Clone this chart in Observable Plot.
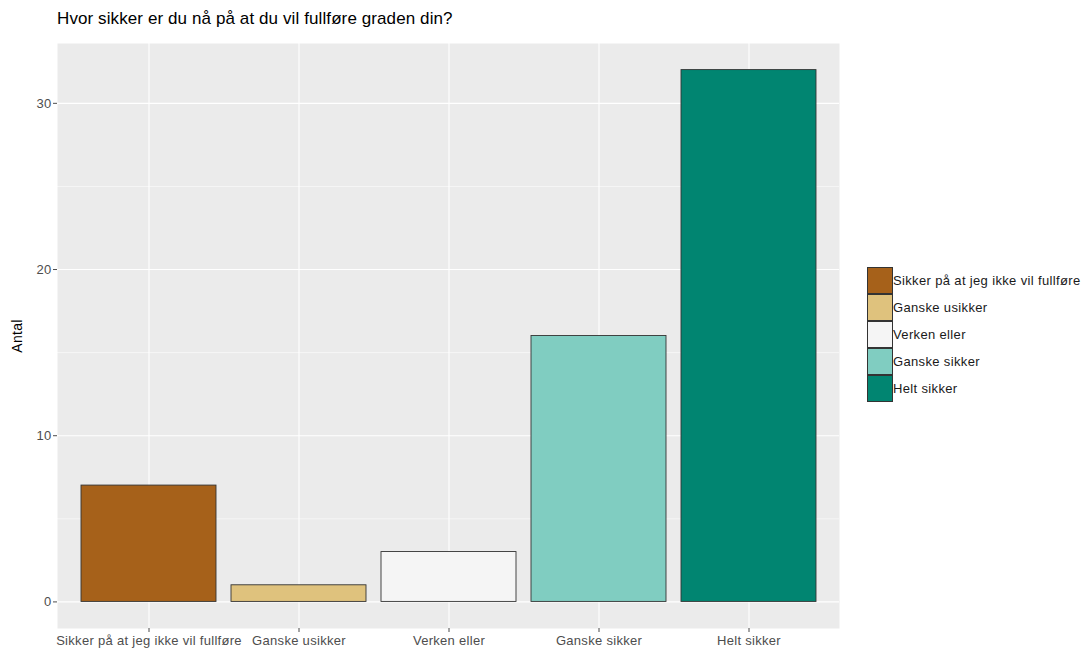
<!DOCTYPE html>
<html><head><meta charset="utf-8">
<script src="https://cdn.jsdelivr.net/npm/d3@7"></script>
<script src="https://cdn.jsdelivr.net/npm/@observablehq/plot@0.6"></script>
<style>
body{margin:0;background:#fff;font-family:"Liberation Sans",Arial,sans-serif;}
#wrap{position:relative;width:1090px;height:651px;}
#chart{position:absolute;left:0;top:0;}
#title{position:absolute;left:57px;top:9px;font-size:17px;letter-spacing:0.1px;color:#000;white-space:nowrap;}
#legend{position:absolute;left:867px;top:267px;}
.row{display:flex;align-items:center;height:27px;}
.key{width:26px;height:27px;box-sizing:border-box;border:1px solid #333;}
.lab{font-size:13px;letter-spacing:0.35px;color:#1a1a1a;margin-left:0px;white-space:nowrap;}
svg text{letter-spacing:0.3px;}
</style></head><body>
<div id="wrap"><div id="chart"></div><div id="title"></div><div id="legend"></div></div>
<script>
const titleText = "Hvor sikker er du nå på at du vil fullføre graden din?";
const yLabel = "Antal";
const categories = ["Sikker på at jeg ikke vil fullføre", "Ganske usikker", "Verken eller", "Ganske sikker", "Helt sikker"];
const counts = [7, 1, 3, 16, 32];
const colors = ["#A6611A", "#DFC27D", "#F5F5F5", "#80CDC1", "#018571"];
const yTicks = [0, 10, 20, 30];
const yMinor = [5, 15, 25];

const data = categories.map((c, i) => ({cat: c, n: counts[i]}));
const maxN = d3.max(counts);
const pad = maxN * 0.05;

const chart = Plot.plot({
  width: 1090, height: 651,
  marginLeft: 57, marginRight: 251, marginTop: 43, marginBottom: 23,
  style: {fontFamily: "Liberation Sans, Arial, sans-serif", background: "transparent"},
  x: {type: "band", domain: categories, paddingInner: 0.1, paddingOuter: 0.15, axis: null},
  y: {domain: [-pad, maxN + pad], axis: null},
  color: {domain: categories, range: colors},
  marks: [
    Plot.frame({fill: "#EBEBEB", stroke: null}),
    Plot.gridY({ticks: yMinor, stroke: "white", strokeOpacity: 1, strokeWidth: 0.55}),
    Plot.gridY({ticks: yTicks, stroke: "white", strokeOpacity: 1, strokeWidth: 1.1}),
    Plot.gridX({stroke: "white", strokeOpacity: 1, strokeWidth: 1.1}),
    Plot.barY(data, {x: "cat", y1: 0, y2: "n", fill: "cat", stroke: "#333", strokeWidth: 0.9}),
    Plot.axisX({tickSize: 4, tickPadding: 3, fontSize: 13, color: "#4D4D4D", label: null}),
    Plot.axisY({ticks: yTicks, tickSize: 4, tickPadding: 2, fontSize: 13, color: "#4D4D4D", label: null}),
    Plot.axisY({ticks: [], label: yLabel, labelAnchor: "center", labelArrow: "none", labelOffset: 45, fontSize: 14, color: "#000"})
  ]
});
document.getElementById("chart").appendChild(chart);
document.getElementById("title").textContent = titleText;
const legend = d3.select("#legend");
categories.forEach((c, i) => {
  const row = legend.append("div").attr("class", "row");
  row.append("div").attr("class", "key").style("background", colors[i]);
  row.append("div").attr("class", "lab").text(c);
});
</script>
</body></html>
